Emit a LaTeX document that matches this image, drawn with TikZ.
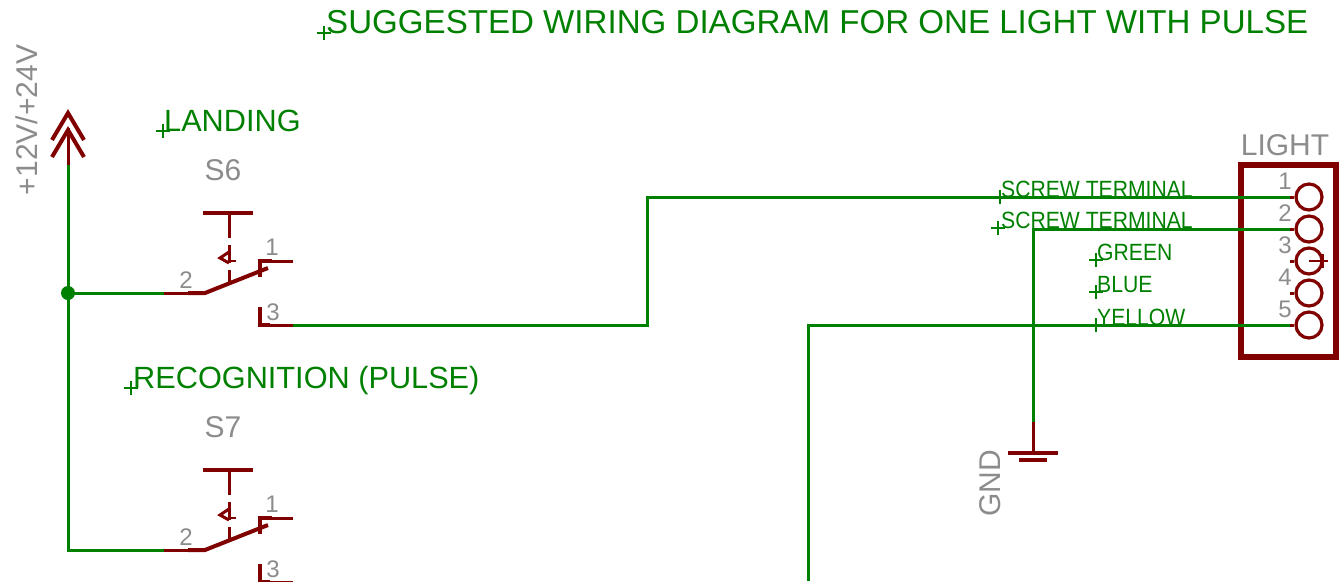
\documentclass[tikz,border=0pt]{standalone}
\usepackage{fontspec}
\setmainfont{Liberation Sans}
\usetikzlibrary{positioning}
\definecolor{netgreen}{RGB}{0,128,0}
\definecolor{partred}{RGB}{128,0,0}
\definecolor{namegrey}{RGB}{140,140,140}

\begin{document}
\begin{tikzpicture}[
    x=1pt,y=-1pt,
    wire/.style={netgreen,line width=3pt},
    symb/.style={partred,line width=3pt},
    symbthick/.style={partred,line width=4pt},
    pad/.style={circle,draw=partred,line width=3.2pt,inner sep=0pt,minimum size=26pt},
    tagbig/.style={netgreen,anchor=base west,inner sep=0pt,font=\fontsize{30.7}{30}\selectfont},
    tagsmall/.style={netgreen,anchor=base west,inner sep=0pt,font=\fontsize{23.5}{23}\selectfont\addfontfeature{FakeStretch=0.9}},
    partname/.style={namegrey,inner sep=0pt,font=\fontsize{30}{30}\selectfont},
    pinno/.style={namegrey,inner sep=0pt,font=\fontsize{24}{24}\selectfont},
    origin/.pic={\draw[netgreen,line width=1.2pt] (-7,0) -- (7,0) (0,-7) -- (0,7);},
    pics/pushswitch/.style={code={
        \coordinate (-pin2) at (164,0);
        \coordinate (-pin3) at (293,32);
        \node[partname] (-name) at (223,-123) {#1};
        \draw[symb] (164,0) -- (188,0);
        \draw[symbthick] (188,0) -- (205,0) -- (268,-25);
        \draw[symbthick] (203,-80) -- (253,-80);
        \draw[symb] (229,-80) -- (229,-55);
        \draw[symb] (229,-48) -- (229,-30) (229,-23) -- (229,-8);
        \draw[symb] (229,-41) -- (220,-35) -- (229,-30);
        \draw[partred,line width=1.2pt] (229,-32) -- (236,-32);
        \draw[symbthick] (272,-32) -- (260,-32) -- (260,-16);
        \draw[symb] (293,-32) -- (268,-32);
        \draw[symbthick] (260,14) -- (260,32) -- (270,32);
        \draw[symb] (270,32) -- (293,32);
        \node[pinno] (-no1) at (272,-46) {1};
        \node[pinno] (-no2) at (186,-13) {2};
        \node[pinno] (-no3) at (273,19) {3};
    }}]
\useasboundingbox (0,0) rectangle (1343,581);
\clip (0,0) rectangle (1343,581);

% supply symbol
\coordinate (vcc) at (68,165);
\coordinate (vcctop) at (68,128);
\coordinate (tee) at (68,293);
\draw[symb] (vcc) -- (vcctop);
\draw[symbthick] (52,140) -- (68,113) -- (84,140);
\draw[symbthick] (52,157) -- (68,130) -- (84,157);
\node[partname,rotate=90] (vcclabel) at (27,120) {+12V/+24V};

% the two switches
\pic (swa) at (0,293) {pushswitch=S6};
\pic (swb) at (0,550) {pushswitch=S7};

% connector
\draw[symbthick,line width=5.5pt] (1241,165) rectangle (1336,357);
\node[partname] (lightname) at (1285,145) {LIGHT};
\foreach \n/\y in {1/197,2/229,3/261,4/293,5/325}{
  \node[pad] (pad\n) at (1309,\y) {};
  \coordinate (pin\n) at (1290,\y);
  \draw[symb] (pin\n) -- (pad\n);
  \node[pinno] (no\n) at (1285,\y-16) {\n};
}
\draw[partred,line width=1.2pt] (pad3.center) -- (1328,261) (1323,254) -- (1323,268);

% ground
\coordinate (gndtop) at (1033,422);
\coordinate (gndbar) at (1033,453);
\draw[symb] (gndtop) -- (gndbar);
\draw[symbthick] (1008,453) -- (1058,453) (1019,460) -- (1047,460);
\node[partname,rotate=90] (gndlabel) at (990,483) {GND};

% nets
\coordinate (bottom) at (808,581);
\draw[wire] (vcc) -- (tee) (tee) -- (swa-pin2);
\draw[wire] (tee) |- (swb-pin2);
\fill[netgreen] (tee) circle (7);
\draw[wire] (swa-pin3) -| (647,197) -- (pin1);
\draw[wire] (pin2) -| (gndtop);
\draw[wire] (pin5) -| (bottom);

% net tags
\pic at (324,33) {origin};
\node[tagbig,font=\fontsize{33.1}{33}\selectfont] (title) at (326,33) {SUGGESTED WIRING DIAGRAM FOR ONE LIGHT WITH PULSE};
\pic at (163,131) {origin};
\node[tagbig] (landing) at (164,131) {LANDING};
\pic at (131,388) {origin};
\node[tagbig] (recog) at (133,388) {RECOGNITION (PULSE)};
\pic at (1000,197) {origin};
\node[tagsmall] (screwa) at (1001,197) {SCREW TERMINAL};
\pic at (998,228) {origin};
\node[tagsmall] (screwb) at (1001,228) {SCREW TERMINAL};
\pic at (1096,260) {origin};
\node[tagsmall] (green) at (1097,260) {GREEN};
\pic at (1096,292) {origin};
\node[tagsmall] (blue) at (1097,292) {BLUE};
\pic at (1096,325) {origin};
\node[tagsmall] (yellow) at (1097,325) {YELLOW};
\end{tikzpicture}
\end{document}
